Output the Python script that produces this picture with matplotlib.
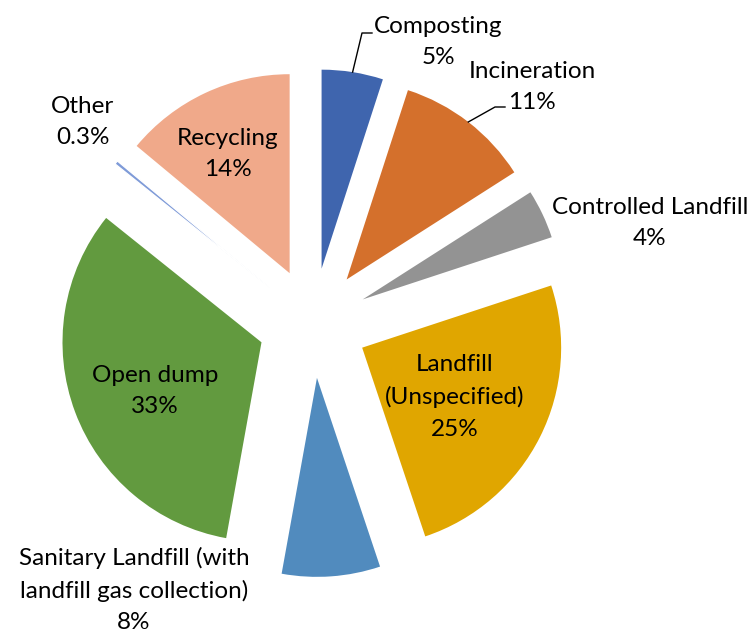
import numpy as np
import matplotlib.pyplot as plt

# data
categories = ["Composting", "Incineration", "Controlled Landfill", "Landfill\n(Unspecified)",
              "Sanitary Landfill (with\nlandfill gas collection)", "Open dump", "Other", "Recycling"]
shares = [5, 11, 4, 25, 8, 33, 0.3, 14]
pct_labels = ["5%", "11%", "4%", "25%", "8%", "33%", "0.3%", "14%"]
colors = ["#3F65AE", "#D4702C", "#939393", "#E0A600", "#518BBE", "#629A3F", "#7F9BD8", "#F0A98A"]

W, H = 750, 634
plt.rcParams['font.family'] = ['Lato', 'DejaVu Sans']

fig = plt.figure(figsize=(7.5, 6.34), dpi=100)
ax = fig.add_axes([0, 0, 1, 1])

cx, cy, R = 313, H - 323, 199
wedges, _ = ax.pie(shares, colors=colors, startangle=90, counterclock=False,
                   center=(cx, cy), radius=R, explode=[55] * len(shares),
                   wedgeprops=dict(linewidth=0), frame=True)
ax.set_xlim(0, W)
ax.set_ylim(0, H)
ax.set_aspect('equal')
ax.axis('off')

# white border on the tiny "Other" slice so it fades to a thin line
wedges[6].set_edgecolor('white')
wedges[6].set_linewidth(0.9)

# label layout (image pixel coords of text block centre), and optional leader elbow
label_pos = [(438, 42), (532, 87), (650, 223), (455, 397), (134, 590), (155, 391), (83, 122), (228, 154)]
leaders = {0: [(362, 33), (372, 33)], 1: [(495, 107), (505, 107)]}

fs = 17.5
for i, w in enumerate(wedges):
    txt = categories[i] + "\n" + pct_labels[i]
    x, y = label_pos[i]
    ax.text(x, H - y, txt, ha='center', va='center', fontsize=fs, color='black',
            linespacing=1.62, multialignment='center')
    if i in leaders:
        mid = np.deg2rad((w.theta1 + w.theta2) / 2)
        wx, wy = w.center
        sx, sy = wx + w.r * np.cos(mid), wy + w.r * np.sin(mid)
        pts = [(sx, sy)] + [(px, H - py) for px, py in leaders[i]]
        ax.plot([p[0] for p in pts], [p[1] for p in pts], color='black', linewidth=1)

fig.savefig("out.png", dpi=100)
